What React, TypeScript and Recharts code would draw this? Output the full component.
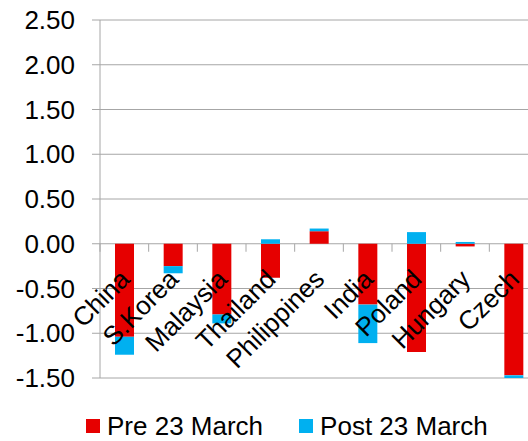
import React from "react";
import {
    Bar,
    BarChart,
    CartesianGrid,
    Legend,
    XAxis,
    YAxis
} from "recharts";

const countries = ["China", "S.Korea", "Malaysia", "Thailand", "Philippines", "India", "Poland", "Hungary", "Czech"];
const pre23March = [-1.04, -0.25, -0.79, -0.38, 0.14, -0.68, -1.21, -0.03, -1.47];
const post23March = [-0.2, -0.08, -0.1, 0.05, 0.03, -0.43, 0.13, 0.02, -0.03];
const yTicks = [-1.5, -1.0, -0.5, 0, 0.5, 1.0, 1.5, 2.0, 2.5];

const data = countries.map((name, i) => ({
    name,
    pre: pre23March[i],
    post: post23March[i]
}));

const FONT = "'Liberation Sans', Arial, sans-serif";
const GRID = "#a6a6a6";
const RED = "#e60000";
const BLUE = "#00b0f0";

// chart geometry (plot area 100..538 x 20..378)
const CHART_W = 538;
const CHART_H = 441;
const TOP = 20;
const Y_AXIS_W = 100;
const X_AXIS_H = 33;
const LEGEND_H = 30;
const PLOT_H = CHART_H - TOP - X_AXIS_H - LEGEND_H;
const PLOT_W = CHART_W - Y_AXIS_W;
const Y_MIN = yTicks[0];
const Y_MAX = yTicks[yTicks.length - 1];
const ZERO_Y = TOP + (PLOT_H * Y_MAX) / (Y_MAX - Y_MIN);
const BAND = PLOT_W / countries.length;

// category labels sit on the zero line, like Excel's axis crossing at 0
function CategoryTick(props: any) {
    const { x, payload } = props;
    const ax = x + 7;
    const ay = ZERO_Y + 37;
    return (
        <g>
            <line x1={x - BAND / 2} x2={x - BAND / 2} y1={ZERO_Y} y2={ZERO_Y + 8} stroke={GRID} />
            <text
                x={ax}
                y={ay}
                transform={`rotate(-45, ${ax}, ${ay})`}
                textAnchor="end"
                fontSize={26}
                fontFamily={FONT}
                fill="#000"
            >
                {payload.value}
            </text>
        </g>
    );
}

function LegendContent() {
    const item = (color: string, label: string, ml: number) => (
        <div style={{ display: "flex", alignItems: "center", marginLeft: ml }}>
            <span style={{ width: 14, height: 14, background: color, display: "inline-block", marginRight: 7 }} />
            <span>{label}</span>
        </div>
    );
    return (
        <div style={{ display: "flex", alignItems: "center", height: LEGEND_H, fontSize: 26, fontFamily: FONT, color: "#000", lineHeight: `${LEGEND_H}px` }}>
            {item(RED, "Pre 23 March", 86)}
            {item(BLUE, "Post 23 March", 36)}
        </div>
    );
}

export default function App() {
    return (
        <div style={{ position: "absolute", left: 0, top: 0, width: 528, height: 441, overflow: "hidden", background: "#fff" }}>
            <BarChart
                width={CHART_W}
                height={CHART_H}
                data={data}
                stackOffset="sign"
                margin={{ top: TOP, right: 0, bottom: 0, left: 0 }}
            >
                <CartesianGrid vertical={false} stroke={GRID} />
                <YAxis
                    width={Y_AXIS_W}
                    domain={[Y_MIN, Y_MAX]}
                    ticks={yTicks}
                    allowDataOverflow
                    tickFormatter={(v: number) => v.toFixed(2)}
                    tick={{ fontSize: 26, fontFamily: FONT, fill: "#000" }}
                    stroke={GRID}
                    tickSize={8}
                    tickMargin={17}
                />
                <Bar dataKey="pre" stackId="a" fill={RED} barSize={19} isAnimationActive={false} />
                <Bar dataKey="post" stackId="a" fill={BLUE} barSize={19} isAnimationActive={false} />
                <XAxis
                    dataKey="name"
                    height={X_AXIS_H}
                    interval={0}
                    axisLine={false}
                    tickLine={false}
                    tick={(p: any) => <CategoryTick {...p} />}
                />
                <Legend
                    verticalAlign="bottom"
                    content={() => <LegendContent />}
                    wrapperStyle={{ top: 411, left: 0, width: 528, height: LEGEND_H }}
                />
            </BarChart>
        </div>
    );
}
